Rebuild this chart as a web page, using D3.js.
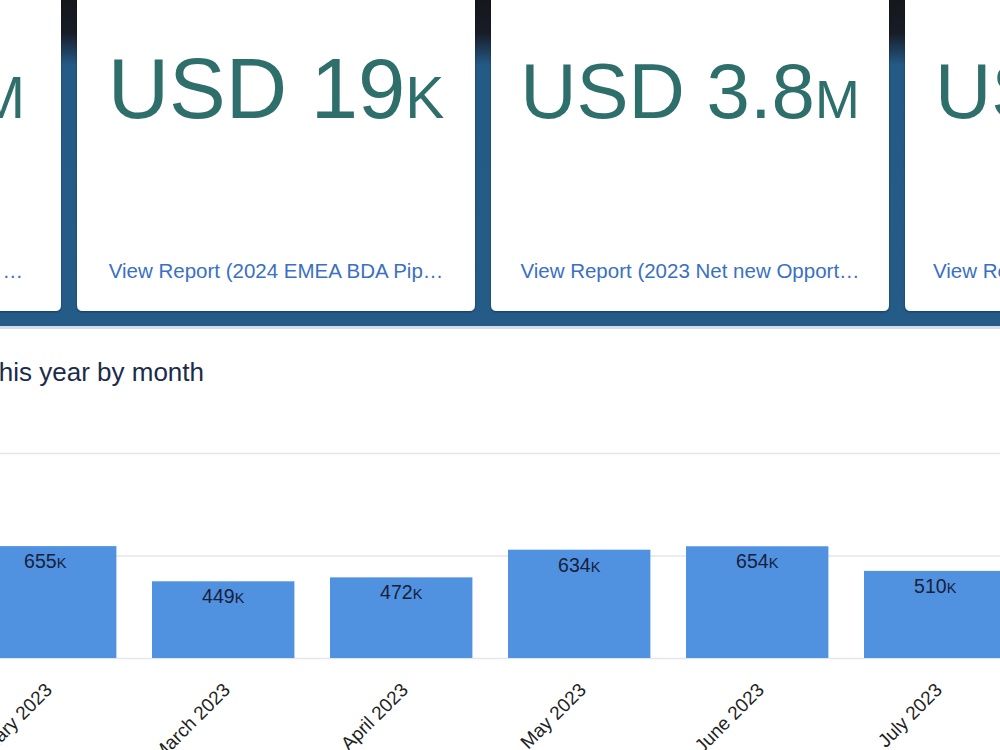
<!DOCTYPE html>
<html>
<head>
<meta charset="utf-8">
<script src="https://cdn.jsdelivr.net/npm/d3@7"></script>
<style>
  html, body { margin: 0; padding: 0; background: #ffffff; overflow: hidden; }
  svg { display: block; font-family: "Liberation Sans", Arial, Helvetica, sans-serif; }
</style>
</head>
<body>
<svg id="chart" width="1000" height="750"></svg>
<script>
// ---- data ----
const months = ["February 2023", "March 2023", "April 2023", "May 2023", "June 2023", "July 2023"];
const amounts = [655000, 449000, 472000, 634000, 654000, 510000];
const barLabels = ["655", "449", "472", "634", "654", "510"];
const barUnits = ["K", "K", "K", "K", "K", "K"];
const yTicks = [0, 600000, 1200000];

const cardValues = ["", "USD 19", "USD 3.8", "US"];
const cardUnits = ["M", "K", "M", ""];
const cardFontSizes = [85, 85, 78, 78];
const cardLinks = ["…", "View Report (2024 EMEA BDA Pip…", "View Report (2023 Net new Opport…", "View Re"];
const chartTitle = "this year by month";

// ---- layout ----
const svg = d3.select("#chart");
const defs = svg.append("defs");
const grad = defs.append("linearGradient").attr("id", "bg").attr("x1", 0).attr("y1", 0).attr("x2", 0).attr("y2", 1);
grad.append("stop").attr("offset", "0").attr("stop-color", "#15171b");
grad.append("stop").attr("offset", "0.1").attr("stop-color", "#171c26");
grad.append("stop").attr("offset", "0.2").attr("stop-color", "#245a86");
grad.append("stop").attr("offset", "1").attr("stop-color", "#245b87");
const shadow = defs.append("filter").attr("id", "sh").attr("x", "-5%").attr("y", "-5%").attr("width", "110%").attr("height", "115%");
shadow.append("feDropShadow").attr("dx", 0).attr("dy", 1).attr("stdDeviation", 1).attr("flood-color", "#000").attr("flood-opacity", 0.35);

// dashboard band
svg.append("rect").attr("x", 0).attr("y", 0).attr("width", 1000).attr("height", 326).attr("fill", "url(#bg)");
svg.append("rect").attr("x", 0).attr("y", 326).attr("width", 1000).attr("height", 3).attr("fill", "#d3dde7");

// cards via a band scale
const cardX = d3.scaleBand().domain(d3.range(cardValues.length)).range([-337, 1303]).paddingInner(16 / 414);
const cards = svg.append("g").selectAll("g").data(cardValues).join("g")
  .attr("transform", (d, i) => `translate(${cardX(i)},0)`);
cards.append("path")
  .attr("filter", "url(#sh)")
  .attr("fill", "#ffffff")
  .attr("d", () => {
    const w = cardX.bandwidth(), h = 311, r = 6;
    return `M0,-10 H${w} V${h - r} Q${w},${h} ${w - r},${h} H${r} Q0,${h} 0,${h - r} Z`;
  });

const valText = cards.append("text")
  .attr("y", 118)
  .attr("fill", "#2f6f6b")
  .attr("font-size", (d, i) => cardFontSizes[i])
  .attr("x", (d, i) => i === 0 ? cardX.bandwidth() - 36 : (i === 3 ? 30 : cardX.bandwidth() / 2))
  .attr("text-anchor", (d, i) => i === 0 ? "end" : (i === 3 ? "start" : "middle"));
valText.append("tspan").text(d => d);
valText.append("tspan").attr("font-size", (d, i) => cardFontSizes[i] * 0.69).text((d, i) => cardUnits[i]);

cards.append("text")
  .attr("y", 278)
  .attr("fill", "#3a70c2")
  .attr("font-size", 20.5)
  .attr("x", (d, i) => i === 0 ? cardX.bandwidth() - 38 : (i === 3 ? 28 : cardX.bandwidth() / 2))
  .attr("text-anchor", (d, i) => i === 0 ? "end" : (i === 3 ? "start" : "middle"))
  .text((d, i) => cardLinks[i]);

// chart title
svg.append("text")
  .attr("x", 204).attr("y", 381)
  .attr("text-anchor", "end")
  .attr("font-size", 26)
  .attr("fill", "#1c2b4b")
  .text(chartTitle);

// ---- bar chart ----
const x = d3.scaleBand().domain(months).range([-61.6, 1042]).paddingInner(0.2).paddingOuter(0.2);
const y = d3.scaleLinear().domain([0, 1200000]).range([658, 453]);

// gridlines using an axis
const grid = svg.append("g")
  .call(d3.axisLeft(y).tickValues(yTicks).tickSize(0).tickFormat(""));
grid.select(".domain").remove();
grid.selectAll(".tick line").attr("x1", 0).attr("x2", 1000).attr("stroke", "#e4e6ea").attr("stroke-width", 1.5);

svg.append("g").selectAll("rect").data(amounts).join("rect")
  .attr("x", (d, i) => x(months[i]))
  .attr("y", d => y(d))
  .attr("width", x.bandwidth())
  .attr("height", d => y(0) - y(d))
  .attr("fill", "#5092e0");

const lbl = svg.append("g").selectAll("text").data(amounts).join("text")
  .attr("x", (d, i) => x(months[i]) + x.bandwidth() / 2)
  .attr("y", d => y(d) + 22)
  .attr("text-anchor", "middle")
  .attr("font-size", 19.5)
  .attr("fill", "#17203a");
lbl.append("tspan").text((d, i) => barLabels[i]);
lbl.append("tspan").attr("font-size", 14.5).text((d, i) => barUnits[i]);

// x axis labels
const xa = svg.append("g").attr("transform", "translate(0,658)")
  .call(d3.axisBottom(x).tickSize(0).tickPadding(0));
xa.select(".domain").remove();
xa.selectAll(".tick text")
  .attr("font-family", "Liberation Sans, Arial, sans-serif")
  .attr("font-size", 19)
  .attr("fill", "#222222")
  .attr("text-anchor", "end")
  .attr("dy", 0)
  .attr("y", 0)
  .attr("transform", "translate(8,33) rotate(-45)");
</script>
</body>
</html>
